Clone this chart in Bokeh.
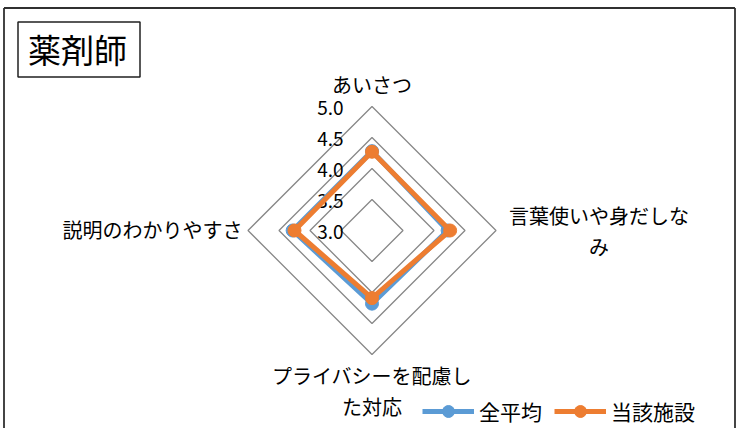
import numpy as np
from bokeh.plotting import figure
from bokeh.models import Range1d, Legend, LegendItem
from bokeh.core.properties import value
from bokeh.embed import file_html
from bokeh.resources import INLINE

# ---- data ----
categories = ["あいさつ", "言葉使いや身だしな\nみ", "プライバシーを配慮し\nた対応", "説明のわかりやすさ"]
series_names = ["全平均", "当該施設"]
overall_avg = [4.28, 4.22, 4.18, 4.28]
this_facility = [4.27, 4.26, 4.09, 4.25]
tick_values = [3.0, 3.5, 4.0, 4.5, 5.0]
tick_labels = ["3.0", "3.5", "4.0", "4.5", "5.0"]
title_text = "薬剤師"

FONT = "Noto Sans CJK JP"
BLUE = "#5B9BD5"
ORANGE = "#ED7D31"
GRID = "#878787"

OFF = 2                      # where the figure starts on the page
W, H = 736, 428
PX, PY = 373.5, 232.0        # radar centre, page pixels
CX, CY = PX - OFF, PY - OFF  # centre, figure pixels (from left, from top)
R = 124.0
vmin, vmax = tick_values[0], tick_values[-1]

def dx(px):  # page x -> data x
    return px - PX

def dy(py):  # page y -> data y
    return PY - py

p = figure(width=W, height=H, output_backend="svg", toolbar_location=None,
           x_range=Range1d(-CX, W - CX), y_range=Range1d(-(H - CY), CY),
           min_border=0)
p.axis.visible = False
p.grid.visible = False
p.outline_line_color = None
p.background_fill_color = "white"
p.border_fill_color = "white"

n = len(categories)
angles = [np.pi / 2 - 2 * np.pi * i / n for i in range(n)]

def rad(v):
    return (v - vmin) / (vmax - vmin) * R

# chart border (left, top, right)
bl, bt, br, bb = dx(5.5), dy(9.5), dx(736.5), dy(460)
p.segment(x0=[bl, bl, br], y0=[bb, bt, bt], x1=[bl, br, br], y1=[bt, bt, bb],
          line_color="#303030", line_width=1.8)

# rings
xs, ys = [], []
for t in tick_values[1:]:
    r = rad(t)
    xs.append([r * np.cos(a) for a in angles] + [r * np.cos(angles[0])])
    ys.append([r * np.sin(a) for a in angles] + [r * np.sin(angles[0])])
p.multi_line(xs, ys, line_color=GRID, line_width=1.3)

# tick labels
p.text(x=[dx(345)] * len(tick_values), y=[rad(t) - 1 for t in tick_values], text=tick_labels,
       text_font=value(FONT), text_font_size="19px", text_align="right",
       text_baseline="middle", text_color="#000000")

# series
renderers = []
for vals, col in [(overall_avg, BLUE), (this_facility, ORANGE)]:
    sx = [rad(v) * np.cos(a) for v, a in zip(vals, angles)]
    sy = [rad(v) * np.sin(a) for v, a in zip(vals, angles)]
    lr = p.line(sx + [sx[0]], sy + [sy[0]], line_color=col, line_width=5, line_join="round")
    sr = p.scatter(sx, sy, size=13, fill_color=col, line_color=col)
    renderers.append((lr, sr))

# category labels
common = dict(text_font=value(FONT), text_font_size="20px", text_color="#000000",
              text_line_height=1.1)
p.text(x=[0], y=[R + 22], text=[categories[0]], text_align="center", text_baseline="middle", **common)
p.text(x=[R + 103], y=[-0.5], text=[categories[1]], text_align="center", text_baseline="middle", **common)
p.text(x=[0], y=[-(R + 36.5)], text=[categories[2]], text_align="center", text_baseline="middle", **common)
p.text(x=[-(R + 5.5)], y=[1], text=[categories[3]], text_align="right", text_baseline="middle", **common)

# title box
p.quad(left=[dx(19.5)], right=[dx(141.5)], top=[dy(23.5)], bottom=[dy(78.5)],
       fill_color="white", line_color="#202020", line_width=1.5)
p.text(x=[dx(79)], y=[dy(50)], text=[title_text], text_font=value(FONT), text_font_size="33px",
       text_align="center", text_baseline="middle", text_color="#000000")

# legend
items = [LegendItem(label=name, renderers=list(rs)) for name, rs in zip(series_names, renderers)]
legend = Legend(items=items, orientation="horizontal", location=(dx(424) + CX, 2),
                glyph_width=52, glyph_height=30, label_standoff=5, spacing=12,
                padding=0, margin=0, border_line_alpha=0, background_fill_alpha=0,
                label_text_font=FONT, label_text_font_size="21px", label_text_color="#000000")
p.add_layout(legend)

open("out.html", "w").write(file_html(p, INLINE))
